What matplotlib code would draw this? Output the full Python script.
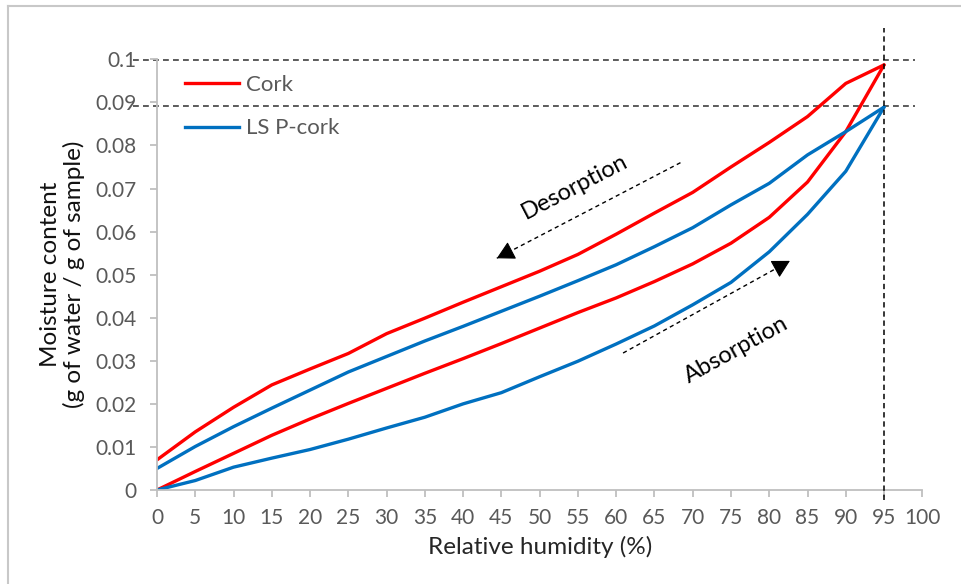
import matplotlib
matplotlib.use("Agg")
import matplotlib.pyplot as plt
from matplotlib.lines import Line2D

plt.rcParams['font.family'] = ['Lato', 'DejaVu Sans']

# ---- data ----
rh = [0, 5, 10, 15, 20, 25, 30, 35, 40, 45, 50, 55, 60, 65, 70, 75, 80, 85, 90, 95]
cork_des = [0.0070, 0.0135, 0.0192, 0.0244, 0.0281, 0.0317, 0.0363, 0.0399, 0.0436, 0.0472,
            0.0508, 0.0547, 0.0594, 0.0643, 0.0691, 0.0750, 0.0807, 0.0867, 0.0944, 0.0987]
cork_abs = [0.0000, 0.0043, 0.0085, 0.0127, 0.0165, 0.0201, 0.0236, 0.0271, 0.0305, 0.0340,
            0.0376, 0.0412, 0.0446, 0.0484, 0.0525, 0.0573, 0.0633, 0.0715, 0.0832, 0.0987]
lsp_des = [0.0050, 0.0101, 0.0147, 0.0190, 0.0232, 0.0274, 0.0310, 0.0346, 0.0380, 0.0415,
           0.0450, 0.0486, 0.0523, 0.0565, 0.0609, 0.0662, 0.0712, 0.0778, 0.0832, 0.0889]
lsp_abs = [0.0000, 0.0022, 0.0053, 0.0074, 0.0094, 0.0118, 0.0144, 0.0169, 0.0200, 0.0226,
           0.0263, 0.0299, 0.0339, 0.0381, 0.0430, 0.0482, 0.0553, 0.0640, 0.0740, 0.0889]
series_names = ['Cork', 'LS P-cork']
x_ticks = list(range(0, 101, 5))
y_ticks = [0, 0.01, 0.02, 0.03, 0.04, 0.05, 0.06, 0.07, 0.08, 0.09, 0.1]
y_tick_labels = ['0', '0.01', '0.02', '0.03', '0.04', '0.05', '0.06', '0.07', '0.08', '0.09', '0.1']
ref_h = [0.0998, 0.0891]
ref_v = 95
# annotation arrows: (start, end) in data units
des_arrow = ((68.4, 0.0760), (44.4, 0.0538))
abs_arrow = ((60.9, 0.0318), (82.7, 0.0532))

RED = '#FF0000'
BLUE = '#0070C0'
GRID = '#BFBFBF'
TXT = '#595959'

fig = plt.figure(figsize=(9.61, 5.84), dpi=100)
ax = fig.add_axes([157/961, (584-490)/584, (922.3-157)/961, (490-59.3)/584])

kw = dict(lw=2.4, solid_capstyle='round', solid_joinstyle='round')
ax.plot(rh, cork_des, color=RED, **kw)
ax.plot(rh, cork_abs, color=RED, **kw)
ax.plot(rh, lsp_des, color=BLUE, **kw)
ax.plot(rh, lsp_abs, color=BLUE, **kw)

ax.set_xlim(0, 100)
ax.set_ylim(0, 0.1)
ax.set_xticks(x_ticks)
ax.set_xticklabels([str(t) for t in x_ticks])
ax.set_yticks(y_ticks)
ax.set_yticklabels(y_tick_labels)

for s in ['top', 'right']:
    ax.spines[s].set_visible(False)
for s in ['left', 'bottom']:
    ax.spines[s].set_color(GRID)
    ax.spines[s].set_linewidth(1.3)
ax.tick_params(axis='both', colors=GRID, length=5, width=1.3, direction='out',
               labelcolor=TXT, labelsize=15)
ax.tick_params(axis='y', pad=10)
ax.tick_params(axis='x', pad=8)

# reference dashed lines
for yv in ref_h:
    ax.plot([-3.1, 99.1], [yv, yv], color='#404040', lw=1.2, ls=(0, (3.5, 2.5)), clip_on=False, zorder=1)
ax.plot([ref_v, ref_v], [-0.0023, 0.1073], color='black', lw=1.1, ls=(0, (3.5, 2.5)), clip_on=False, zorder=3)

# legend
handles = [Line2D([], [], color=RED, lw=2.4), Line2D([], [], color=BLUE, lw=2.4)]
leg = ax.legend(handles, series_names, loc='upper left', bbox_to_anchor=(185/961, (584-75)/584),
                bbox_transform=fig.transFigure, frameon=False, fontsize=16,
                handlelength=2.45, handletextpad=0.3, labelspacing=1.05, borderpad=0, borderaxespad=0)
for t in leg.get_texts():
    t.set_color(TXT)

# arrows: dashed shaft + solid head
for (x0, y0), (x1, y1) in (des_arrow, abs_arrow):
    ax.plot([x0, x1], [y0, y1], color='black', lw=1.0, ls=(0, (3, 2.5)), zorder=4)
    fx = x1 - (x1 - x0) * 0.02
    fy = y1 - (y1 - y0) * 0.02
    ax.annotate('', xy=(x1, y1), xytext=(fx, fy),
                arrowprops=dict(arrowstyle='-|>,head_length=0.55,head_width=0.3', lw=0.8,
                                color='black', mutation_scale=20, shrinkA=0, shrinkB=0), zorder=5)

ax.text(54.6, 0.0703, 'Desorption', rotation=27.5, ha='center', va='center',
        fontsize=17, color='black', rotation_mode='anchor')
ax.text(75.7, 0.0325, 'Absorption', rotation=29, ha='center', va='center',
        fontsize=17, color='black', rotation_mode='anchor')

ax.set_xlabel('Relative humidity (%)', fontsize=17.5, color='#262626', labelpad=6)
ax.set_ylabel('Moisture content\n(g of water / g of sample)', fontsize=17.5, color='#111111',
              labelpad=7, linespacing=1.1)

# chart-area border (top and left visible)
fig.add_artist(Line2D([8/961, 8/961], [0, (584-6)/584], color='#C8C8C8', lw=1.5))
fig.add_artist(Line2D([8/961, 1], [(584-6)/584, (584-6)/584], color='#C8C8C8', lw=1.5))

fig.savefig('out.png', dpi=100)
